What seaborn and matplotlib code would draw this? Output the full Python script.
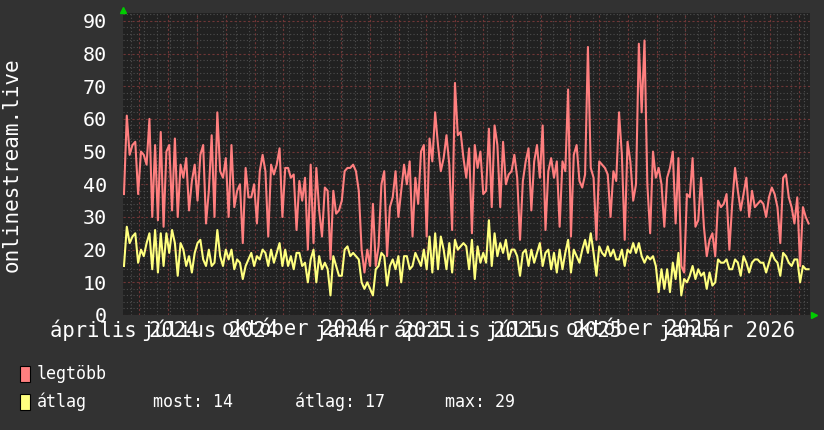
import numpy as np
import pandas as pd
import matplotlib
matplotlib.use("Agg")
import matplotlib.pyplot as plt
import matplotlib.dates as mdates
import matplotlib.transforms as mtransforms
from matplotlib.patches import Rectangle
from matplotlib.ticker import MultipleLocator, FixedLocator
import seaborn as sns

# ---------------- data ----------------
start_date = "2024-04-15"
step_days = 3

legtobb = [
    37, 61, 49, 52, 53, 37, 50, 49, 46, 60,
    30, 52, 29, 56, 27, 50, 52, 32, 54, 30,
    46, 42, 48, 32, 41, 46, 35, 49, 52, 28,
    38, 55, 30, 62, 44, 42, 48, 30, 52, 33,
    38,
    40, 22, 45, 36, 36, 40, 28, 44, 49,
    44, 24, 46, 43, 46, 51, 30, 45, 45, 42,
    43, 26, 41, 35, 42, 20, 46, 22, 45, 32,
    24, 39, 38, 17, 38, 31, 32, 35, 44, 45, 45,
    46, 44, 38, 20, 13, 20, 15, 34, 15, 21,
    40, 44, 18, 33, 36, 44, 30, 38, 46, 40,
    47, 24, 42, 34, 50, 52, 24, 54, 47, 62,
    52, 44, 48, 55, 46, 26, 71, 55, 56, 48,
    42, 51, 25, 52, 45, 50, 37, 38, 57, 33,
    58, 52, 33, 53, 40, 43, 44, 49, 42, 23,
    41, 47, 51, 32, 47, 52, 42, 58, 26, 44,
    48, 42, 47, 27, 47, 44, 69, 24, 49, 52,
    41, 39, 43, 82, 45, 42, 23, 47, 46, 45,
    43, 30, 44, 41, 62, 49, 23, 53, 47, 35,
    40, 83, 62, 84, 40, 25, 50, 42, 45, 40,
    27, 42, 45, 50, 28, 48, 15, 13, 37, 36,
    48, 27, 29, 42, 27, 18, 23, 25, 18, 35,
    33, 34, 37, 20, 34, 45, 38, 32, 37, 42,
    30, 38, 33, 34, 35, 34, 30, 36, 39, 37,
    33, 22, 42, 43, 36, 33, 28, 36, 15, 33, 30, 28,
]

atlag = [
    15, 27, 22, 24, 25, 16, 20, 18, 22, 25,
    14, 26, 13, 25, 15, 25, 19, 26, 22, 12,
    22, 20, 15, 18, 13, 19, 22, 23, 17, 15,
    20, 15, 16, 26, 18, 15, 20, 17, 20, 14,
    17,
    16, 11, 15, 17, 19, 15, 18, 17, 20,
    19, 15, 20, 16, 19, 22, 15, 20, 15, 18,
    14, 19, 19, 15, 16, 10, 17, 20, 10, 18,
    14, 16, 14, 6, 18, 15, 12, 12, 20, 21, 18,
    19, 18, 17, 10, 8, 10, 8, 6, 14, 15,
    19, 18, 9, 15, 17, 14, 18, 10, 18, 18,
    14, 15, 19, 17, 15, 20, 14, 24, 13, 25,
    14, 24, 20, 14, 22, 13, 23, 20, 21, 22,
    21, 14, 23, 11, 21, 16, 19, 16, 29, 15,
    25, 18, 22, 19, 23, 17, 20, 20, 18, 12,
    19, 20, 15, 20, 16, 19, 22, 15, 19, 20,
    14, 19, 13, 20, 14, 19, 23, 13, 20, 18,
    16, 20, 23, 19, 25, 19, 12, 21, 19, 18,
    21, 18, 20, 17, 17, 20, 15, 20, 19, 22,
    19, 22, 18, 16, 18, 17, 18, 15, 7, 14,
    8, 14, 7, 16, 11, 19, 6, 11, 10, 12,
    15, 11, 14, 12, 13, 8, 13, 9, 10, 17,
    16, 16, 17, 14, 14, 17, 16, 12, 18, 16,
    13, 16, 17, 17, 16, 16, 13, 16, 19, 17,
    16, 12, 19, 18, 16, 15, 17, 17, 10, 15, 14, 14,
]

series_names = ["legtöbb", "átlag"]
tick_dates = ["2024-04-15", "2024-07-15", "2024-10-15", "2025-01-15",
              "2025-04-15", "2025-07-15", "2025-10-15", "2026-01-15"]
tick_labels = ["április 2024", "július 2024", "október 2024", "január 2025",
               "április 2025", "július 2025", "október 2025", "január 2026"]
y_ticks = [0, 10, 20, 30, 40, 50, 60, 70, 80, 90]
y_label = "onlinestream.live"
stats_labels = ["most: 14", "átlag: 17", "max: 29"]

x_start = pd.Timestamp("2024-04-14 12:00")
x_end = x_start + pd.Timedelta(days=728)
y_max = 92.4

# ---------------- style ----------------
BG = "#323232"
PLOT_BG = "#212121"
PINK = "#ff7f7f"
YELLOW = "#ffff7f"
GRID = "#4e4e4e"
MGRID = "#6e3636"
ARROW = "#00cc00"

plt.rcParams["font.family"] = ["DejaVu Sans Mono", "DejaVu Sans"]

dates = pd.date_range(start_date, periods=len(legtobb), freq=f"{step_days}D")
df = pd.DataFrame({"date": dates, series_names[0]: legtobb, series_names[1]: atlag})
long = df.melt("date", var_name="series", value_name="value")

W, H = 824, 430
fig = plt.figure(figsize=(W / 100, H / 100), dpi=100, facecolor=BG)
left_px, right_px, top_px, bottom_px = 123.5, 810, 13, 315
ax = fig.add_axes([left_px / W, 1 - bottom_px / H,
                   (right_px - left_px) / W, (bottom_px - top_px) / H])
ax.set_facecolor(PLOT_BG)

sns.lineplot(data=long, x="date", y="value", hue="series", hue_order=series_names,
             palette={series_names[0]: PINK, series_names[1]: YELLOW},
             linewidth=1.5, errorbar=None, legend=False, ax=ax, zorder=3)

ax.set_xlim(x_start, x_end)
ax.set_ylim(0, y_max)

# grid
ax.set_yticks(y_ticks)
ax.yaxis.set_minor_locator(MultipleLocator(2))
ax.set_xticks(mdates.date2num(pd.to_datetime(tick_dates)))
ax.set_xticklabels(tick_labels)
biweekly = pd.date_range("2024-04-22", x_end, freq="14D")
ax.xaxis.set_minor_locator(FixedLocator(mdates.date2num(biweekly)))

ax.set_axisbelow(True)
ax.xaxis.grid(False, which="major")
ax.xaxis.grid(True, which="minor", color=GRID, linestyle=(0, (1, 2)), linewidth=0.8)
ax.yaxis.grid(True, which="minor", color=GRID, linestyle=(0, (1, 2)), linewidth=0.8)
ax.yaxis.grid(True, which="major", color=MGRID, linestyle=(0, (2, 2)), linewidth=0.8)
month_starts = pd.date_range("2024-05-01", x_end, freq="MS")
ax.vlines(month_starts, 0, 1, transform=ax.get_xaxis_transform(),
          colors=MGRID, linestyles=(0, (2, 2)), linewidth=0.8, zorder=1)

for s in ax.spines.values():
    s.set_visible(False)
ax.tick_params(which="both", length=0)
ax.tick_params(axis="y", pad=12, labelsize=14.5, labelcolor="white")
ax.tick_params(axis="x", pad=3, labelsize=14.8, labelcolor="white")
ax.set_xlabel("")
ax.set_ylabel("")

# axis arrows
up_tr = mtransforms.offset_copy(ax.transAxes, fig=fig, x=0, y=3, units="dots")
ax.plot([0], [1], marker="^", ms=5, color=ARROW, transform=up_tr, clip_on=False, zorder=5)
rt_tr = mtransforms.offset_copy(ax.transAxes, fig=fig, x=4, y=0, units="dots")
ax.plot([1], [0], marker=">", ms=5, color=ARROW, transform=rt_tr, clip_on=False, zorder=5)

# y label
fig.text(12 / W, 1 - 165 / H, y_label, rotation=90, ha="center", va="center",
         fontsize=15, color="white")

# legend
def fx(px):
    return px / W

def fy(py):
    return 1 - py / H

for color, yc in [(PINK, 374), (YELLOW, 402)]:
    fig.add_artist(Rectangle((fx(20), fy(yc + 8)), 10 / W, 16 / H,
                             transform=fig.transFigure, facecolor=color,
                             edgecolor="black", linewidth=0.8))
fig.text(fx(37), fy(374), series_names[0], ha="left", va="center", fontsize=12, color="white")
fig.text(fx(37), fy(402), series_names[1], ha="left", va="center", fontsize=12, color="white")
for txt, xpx in zip(stats_labels, [153, 295, 445]):
    fig.text(fx(xpx), fy(402), txt, ha="left", va="center", fontsize=12, color="white")

fig.savefig("out.png", dpi=100, facecolor=BG)
